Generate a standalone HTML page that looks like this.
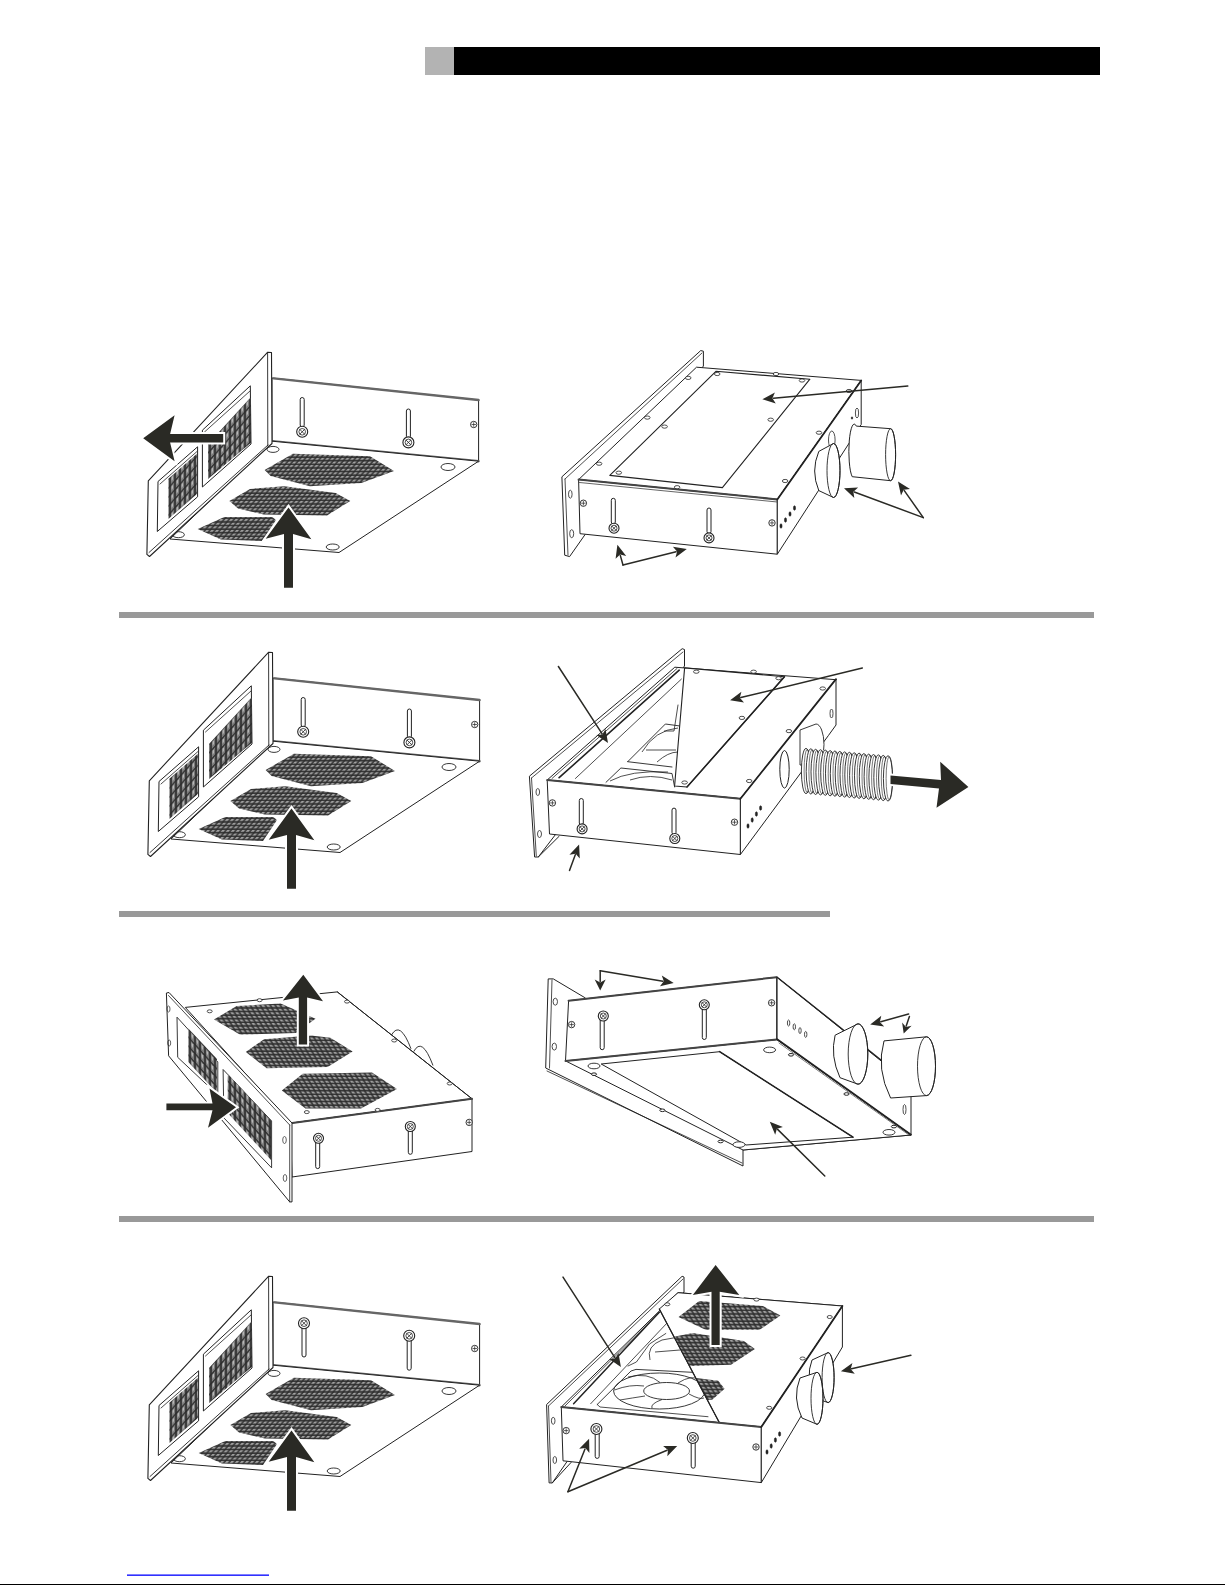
<!DOCTYPE html><html><head><meta charset="utf-8"><style>html,body{margin:0;padding:0;background:#fff;}body{width:1225px;height:1585px;overflow:hidden;position:relative;font-family:"Liberation Sans",sans-serif;}svg{position:absolute;left:0;top:0;}</style></head><body>
<svg width="1225" height="1585" viewBox="0 0 1225 1585">
<defs>
<pattern id="mesh" width="5" height="3.6" patternUnits="userSpaceOnUse" patternTransform="skewX(-40)"><rect width="5" height="3.6" fill="#2a2a2a"/><rect x="0.7" y="0.6" width="3.6" height="2.4" fill="#7c7c7c"/><rect x="1.3" y="1.0" width="1.8" height="0.9" fill="#bdbdbd"/></pattern>
<pattern id="meshp" width="5" height="9" patternUnits="userSpaceOnUse" patternTransform="skewY(-48)"><rect width="5" height="9" fill="#2a2a2a"/><rect x="0.8" y="0.8" width="3.4" height="7.4" fill="#7c7c7c"/><rect x="1.6" y="2" width="1.4" height="3.5" fill="#bdbdbd"/></pattern>
<pattern id="meshh" width="5" height="3.6" patternUnits="userSpaceOnUse" patternTransform="skewX(30)"><rect width="5" height="3.6" fill="#2a2a2a"/><rect x="0.7" y="0.6" width="3.6" height="2.4" fill="#7c7c7c"/><rect x="1.3" y="1.0" width="1.8" height="0.9" fill="#bdbdbd"/></pattern>
<pattern id="meshp2" width="5" height="9" patternUnits="userSpaceOnUse" patternTransform="skewY(48)"><rect width="5" height="9" fill="#2a2a2a"/><rect x="0.8" y="0.8" width="3.4" height="7.4" fill="#7c7c7c"/><rect x="1.6" y="2" width="1.4" height="3.5" fill="#bdbdbd"/></pattern>
</defs>
<rect x="425" y="47" width="29" height="28" fill="#b3b3b3"/>
<rect x="454" y="47" width="646" height="28" fill="#000"/>
<rect x="119" y="612" width="975" height="6" fill="#999"/>
<rect x="119" y="911" width="711" height="6" fill="#999"/>
<rect x="119" y="1216" width="975" height="6" fill="#999"/>
<rect x="127" y="1574.5" width="142" height="1.3" fill="#00f"/>
<rect x="0" y="1584" width="1225" height="1" fill="#000"/>
<defs><g id="d1"><polygon points="272.0,378.0 478.6,400.0 478.6,461.2 272.0,441.2" fill="#fff" stroke="#222" stroke-width="1.0" stroke-linejoin="round" /><line x1="273.7" y1="378.4" x2="478.6" y2="400.0" stroke="#666" stroke-width="2.4" stroke-linecap="round"/><line x1="272.0" y1="441.2" x2="478.6" y2="461.2" stroke="#666" stroke-width="2.4" stroke-linecap="round"/><polygon points="272.0,441.2 478.6,461.2 339.0,552.5 170.0,539.0" fill="#fff" stroke="#222" stroke-width="1.0" stroke-linejoin="round" /><ellipse cx="473.7" cy="424.5" rx="3.2" ry="3.2" fill="#fff" stroke="#222" stroke-width="0.9"/><line x1="471.8" y1="424.5" x2="475.6" y2="424.5" stroke="#222" stroke-width="0.7" stroke-linecap="round"/><line x1="473.7" y1="422.6" x2="473.7" y2="426.4" stroke="#222" stroke-width="0.7" stroke-linecap="round"/><ellipse cx="273.0" cy="449.4" rx="6.0" ry="3.0" fill="none" stroke="#222" stroke-width="0.9"/><ellipse cx="448.0" cy="467.0" rx="7.0" ry="3.5" fill="none" stroke="#222" stroke-width="0.9"/><ellipse cx="332.7" cy="547.0" rx="6.5" ry="3.0" fill="none" stroke="#222" stroke-width="0.9"/><ellipse cx="178.4" cy="534.7" rx="6.0" ry="3.0" fill="none" stroke="#222" stroke-width="0.9"/><polygon points="264.6,470.0 292.9,453.7 370.0,456.3 394.0,470.9 361.4,482.9 310.0,486.3 270.6,476.0" fill="url(#mesh)" stroke="none"/><polygon points="229.4,500.9 250.0,488.9 284.3,486.3 335.7,493.0 350.3,500.9 327.0,515.4 263.7,514.6 238.0,508.6" fill="url(#mesh)" stroke="none"/><polygon points="197.7,529.0 224.3,517.0 272.3,517.0 276.0,520.0 262.0,541.0 220.9,539.4" fill="url(#mesh)" stroke="none"/><polygon points="267.7,352.2 271.5,352.5 272.0,443.5 149.5,556.5 146.9,554.4 148.3,480.8" fill="#fff" stroke="#222" stroke-width="1.1" stroke-linejoin="round" /><line x1="267.6" y1="353.0" x2="267.8" y2="446.0" stroke="#222" stroke-width="0.9" stroke-linecap="round"/><line x1="149.0" y1="552.5" x2="268.0" y2="445.0" stroke="#222" stroke-width="0.9" stroke-linecap="round"/><polygon points="202.4,430.2 250.3,385.8 251.0,444.0 202.4,487.0" fill="#fff" stroke="#222" stroke-width="1.0" stroke-linejoin="round" /><polygon points="208.0,444.0 251.0,397.0 251.0,442.7 208.0,479.0" fill="url(#meshp)" stroke="none"/><line x1="204.5" y1="432.0" x2="250.0" y2="391.0" stroke="#222" stroke-width="0.8" stroke-linecap="round"/><polygon points="158.0,481.5 197.6,446.8 197.6,496.8 157.3,531.5" fill="#fff" stroke="#222" stroke-width="1.0" stroke-linejoin="round" /><polygon points="168.4,478.8 196.9,453.8 196.9,494.0 168.4,519.0" fill="url(#meshp)" stroke="none"/><line x1="160.0" y1="484.0" x2="197.0" y2="451.5" stroke="#222" stroke-width="0.8" stroke-linecap="round"/></g></defs>
<use href="#d1"/>
<rect x="300.2" y="397.5" width="4" height="29.5" rx="2" fill="#fff" stroke="#222" stroke-width="1"/><ellipse cx="302.2" cy="431.8" rx="5.5" ry="5.5" fill="#fff" stroke="#222" stroke-width="1.1"/><ellipse cx="302.2" cy="431.8" rx="3.3" ry="3.3" fill="none" stroke="#222" stroke-width="0.8"/><line x1="300.0" y1="429.6" x2="304.4" y2="434.0" stroke="#222" stroke-width="0.8" stroke-linecap="round"/><line x1="300.0" y1="434.0" x2="304.4" y2="429.6" stroke="#222" stroke-width="0.8" stroke-linecap="round"/>
<rect x="406.4" y="409.0" width="4" height="29.4" rx="2" fill="#fff" stroke="#222" stroke-width="1"/><ellipse cx="408.4" cy="442.4" rx="5.5" ry="5.5" fill="#fff" stroke="#222" stroke-width="1.1"/><ellipse cx="408.4" cy="442.4" rx="3.3" ry="3.3" fill="none" stroke="#222" stroke-width="0.8"/><line x1="406.2" y1="440.2" x2="410.6" y2="444.6" stroke="#222" stroke-width="0.8" stroke-linecap="round"/><line x1="406.2" y1="444.6" x2="410.6" y2="440.2" stroke="#222" stroke-width="0.8" stroke-linecap="round"/>
<polygon points="143.2,438.3 174.6,415.2 170.1,434.0 223.2,434.0 223.2,442.6 170.1,442.6 174.6,461.3" fill="#2a2a25" stroke="#fff" stroke-width="4" paint-order="stroke" stroke-linejoin="miter"/>
<polygon points="288.5,507.5 311.4,539.2 293.0,534.0 293.0,587.8 284.0,587.8 284.0,534.0 265.7,538.8" fill="#2a2a25" stroke="#fff" stroke-width="4" paint-order="stroke" stroke-linejoin="miter"/>
<use href="#d1" transform="translate(1,300)"/>
<rect x="301.2" y="697.5" width="4" height="29.5" rx="2" fill="#fff" stroke="#222" stroke-width="1"/><ellipse cx="303.2" cy="731.8" rx="5.5" ry="5.5" fill="#fff" stroke="#222" stroke-width="1.1"/><ellipse cx="303.2" cy="731.8" rx="3.3" ry="3.3" fill="none" stroke="#222" stroke-width="0.8"/><line x1="301.0" y1="729.6" x2="305.4" y2="734.0" stroke="#222" stroke-width="0.8" stroke-linecap="round"/><line x1="301.0" y1="734.0" x2="305.4" y2="729.6" stroke="#222" stroke-width="0.8" stroke-linecap="round"/>
<rect x="407.4" y="709.0" width="4" height="29.4" rx="2" fill="#fff" stroke="#222" stroke-width="1"/><ellipse cx="409.4" cy="742.4" rx="5.5" ry="5.5" fill="#fff" stroke="#222" stroke-width="1.1"/><ellipse cx="409.4" cy="742.4" rx="3.3" ry="3.3" fill="none" stroke="#222" stroke-width="0.8"/><line x1="407.2" y1="740.2" x2="411.6" y2="744.6" stroke="#222" stroke-width="0.8" stroke-linecap="round"/><line x1="407.2" y1="744.6" x2="411.6" y2="740.2" stroke="#222" stroke-width="0.8" stroke-linecap="round"/>
<polygon points="291.5,808.5 314.4,840.2 296.0,835.0 296.0,888.8 287.0,888.8 287.0,835.0 268.7,839.8" fill="#2a2a25" stroke="#fff" stroke-width="4" paint-order="stroke" stroke-linejoin="miter"/>
<use href="#d1" transform="translate(1,924)"/>
<rect x="302.0" y="1324.0" width="4" height="33.0" rx="2" fill="#fff" stroke="#222" stroke-width="1"/><ellipse cx="304.0" cy="1323.2" rx="5.5" ry="5.5" fill="#fff" stroke="#222" stroke-width="1.1"/><ellipse cx="304.0" cy="1323.2" rx="3.3" ry="3.3" fill="none" stroke="#222" stroke-width="0.8"/><line x1="301.8" y1="1321.0" x2="306.2" y2="1325.4" stroke="#222" stroke-width="0.8" stroke-linecap="round"/><line x1="301.8" y1="1325.4" x2="306.2" y2="1321.0" stroke="#222" stroke-width="0.8" stroke-linecap="round"/>
<rect x="407.2" y="1336.0" width="4" height="34.2" rx="2" fill="#fff" stroke="#222" stroke-width="1"/><ellipse cx="409.2" cy="1335.8" rx="5.5" ry="5.5" fill="#fff" stroke="#222" stroke-width="1.1"/><ellipse cx="409.2" cy="1335.8" rx="3.3" ry="3.3" fill="none" stroke="#222" stroke-width="0.8"/><line x1="407.0" y1="1333.6" x2="411.4" y2="1338.0" stroke="#222" stroke-width="0.8" stroke-linecap="round"/><line x1="407.0" y1="1338.0" x2="411.4" y2="1333.6" stroke="#222" stroke-width="0.8" stroke-linecap="round"/>
<polygon points="291.5,1430.5 314.4,1462.2 296.0,1457.0 296.0,1510.8 287.0,1510.8 287.0,1457.0 268.7,1461.8" fill="#2a2a25" stroke="#fff" stroke-width="4" paint-order="stroke" stroke-linejoin="miter"/>
<polygon points="700.7,350.6 703.4,351.2 703.4,366.0 569.6,556.6 564.7,555.2 561.9,476.8" fill="#fff" stroke="#222" stroke-width="1.0" stroke-linejoin="round" /><line x1="702.0" y1="353.0" x2="565.0" y2="479.0" stroke="#222" stroke-width="0.8" stroke-linecap="round"/><line x1="565.0" y1="479.0" x2="568.0" y2="555.0" stroke="#222" stroke-width="0.8" stroke-linecap="round"/><ellipse cx="570.3" cy="494.2" rx="1.8" ry="4.0" fill="none" stroke="#222" stroke-width="0.8"/><ellipse cx="571.7" cy="533.7" rx="2.0" ry="4.0" fill="none" stroke="#222" stroke-width="0.8"/><polygon points="696.5,367.2 861.2,380.4 777.3,499.4 578.6,479.6" fill="#fff" stroke="#222" stroke-width="1.0" stroke-linejoin="round" /><polygon points="715.9,371.3 809.9,379.2 722.4,487.6 609.8,475.4" fill="#fff" stroke="#222" stroke-width="1.1" stroke-linejoin="round" /><polygon points="578.6,479.6 777.3,499.4 777.3,554.2 580.0,533.7" fill="#fff" stroke="#222" stroke-width="1.0" stroke-linejoin="round" /><line x1="578.6" y1="479.6" x2="777.3" y2="499.4" stroke="#444" stroke-width="2.0" stroke-linecap="round"/><line x1="579.5" y1="482.5" x2="777.3" y2="502.0" stroke="#222" stroke-width="0.7" stroke-linecap="round"/><polygon points="777.3,499.4 861.2,380.4 861.2,424.5 777.3,554.2" fill="#fff" stroke="#222" stroke-width="1.0" stroke-linejoin="round" /><line x1="777.3" y1="499.4" x2="861.2" y2="380.4" stroke="#222" stroke-width="1.8" stroke-linecap="round"/><ellipse cx="688.2" cy="377.9" rx="2.8" ry="1.6" fill="#fff" stroke="#222" stroke-width="0.8"/><ellipse cx="647.3" cy="417.6" rx="2.8" ry="1.6" fill="#fff" stroke="#222" stroke-width="0.8"/><ellipse cx="599.1" cy="463.7" rx="2.8" ry="1.6" fill="#fff" stroke="#222" stroke-width="0.8"/><ellipse cx="664.6" cy="426.6" rx="2.8" ry="1.6" fill="#fff" stroke="#222" stroke-width="0.8"/><ellipse cx="618.8" cy="472.7" rx="2.8" ry="1.6" fill="#fff" stroke="#222" stroke-width="0.8"/><ellipse cx="677.1" cy="487.2" rx="2.8" ry="1.6" fill="#fff" stroke="#222" stroke-width="0.8"/><ellipse cx="819.0" cy="432.7" rx="2.8" ry="1.6" fill="#fff" stroke="#222" stroke-width="0.8"/><ellipse cx="785.1" cy="481.0" rx="2.8" ry="1.6" fill="#fff" stroke="#222" stroke-width="0.8"/><ellipse cx="849.0" cy="391.0" rx="2.8" ry="1.6" fill="#fff" stroke="#222" stroke-width="0.8"/><ellipse cx="776.0" cy="374.0" rx="2.8" ry="1.6" fill="#fff" stroke="#222" stroke-width="0.8"/><ellipse cx="717.2" cy="374.0" rx="2.8" ry="1.6" fill="#fff" stroke="#222" stroke-width="0.8"/><ellipse cx="802.0" cy="380.5" rx="2.8" ry="1.6" fill="#fff" stroke="#222" stroke-width="0.8"/><ellipse cx="770.7" cy="419.7" rx="2.8" ry="1.6" fill="#fff" stroke="#222" stroke-width="0.8"/><ellipse cx="583.4" cy="503.2" rx="3.2" ry="3.2" fill="#fff" stroke="#222" stroke-width="0.9"/><line x1="581.5" y1="503.2" x2="585.3" y2="503.2" stroke="#222" stroke-width="0.7" stroke-linecap="round"/><line x1="583.4" y1="501.3" x2="583.4" y2="505.1" stroke="#222" stroke-width="0.7" stroke-linecap="round"/><ellipse cx="772.0" cy="522.9" rx="3.2" ry="3.2" fill="#fff" stroke="#222" stroke-width="0.9"/><line x1="770.1" y1="522.9" x2="773.9" y2="522.9" stroke="#222" stroke-width="0.7" stroke-linecap="round"/><line x1="772.0" y1="521.0" x2="772.0" y2="524.8" stroke="#222" stroke-width="0.7" stroke-linecap="round"/><rect x="611.3" y="498.3" width="4" height="25.7" rx="2" fill="#fff" stroke="#222" stroke-width="1"/><ellipse cx="614.0" cy="528.2" rx="5.0" ry="5.0" fill="#fff" stroke="#222" stroke-width="1.1"/><ellipse cx="614.0" cy="528.2" rx="3.0" ry="3.0" fill="none" stroke="#222" stroke-width="0.8"/><line x1="612.0" y1="526.2" x2="616.0" y2="530.2" stroke="#222" stroke-width="0.8" stroke-linecap="round"/><line x1="612.0" y1="530.2" x2="616.0" y2="526.2" stroke="#222" stroke-width="0.8" stroke-linecap="round"/><rect x="707.0" y="508.0" width="4" height="25.5" rx="2" fill="#fff" stroke="#222" stroke-width="1"/><ellipse cx="709.0" cy="537.9" rx="5.0" ry="5.0" fill="#fff" stroke="#222" stroke-width="1.1"/><ellipse cx="709.0" cy="537.9" rx="3.0" ry="3.0" fill="none" stroke="#222" stroke-width="0.8"/><line x1="707.0" y1="535.9" x2="711.0" y2="539.9" stroke="#222" stroke-width="0.8" stroke-linecap="round"/><line x1="707.0" y1="539.9" x2="711.0" y2="535.9" stroke="#222" stroke-width="0.8" stroke-linecap="round"/><ellipse cx="781.0" cy="526.0" rx="1.1" ry="2.3" fill="#222" stroke="#222" stroke-width="0.5"/><ellipse cx="785.5" cy="520.0" rx="1.1" ry="2.3" fill="#222" stroke="#222" stroke-width="0.5"/><ellipse cx="790.0" cy="514.0" rx="1.1" ry="2.3" fill="#222" stroke="#222" stroke-width="0.5"/><ellipse cx="794.5" cy="508.0" rx="1.1" ry="2.3" fill="#222" stroke="#222" stroke-width="0.5"/><ellipse cx="857.0" cy="413.0" rx="1.6" ry="5.0" fill="none" stroke="#222" stroke-width="0.8"/><ellipse cx="852.0" cy="418.0" rx="0.8" ry="1.2" fill="#222" stroke="#222" stroke-width="0.4"/><path d="M856.3,426.1 L890.6,428.7 A5,26 0 0 1 890.6,480.7 L852.2,476.7 A5,25.3 0 0 1 856.3,426.1 Z" fill="#fff" stroke="#222" stroke-width="1"/><ellipse cx="890.6" cy="454.7" rx="5.0" ry="26.0" fill="none" stroke="#222" stroke-width="0.9"/><ellipse cx="831.8" cy="440.0" rx="3.3" ry="9.0" fill="#fff" stroke="#222" stroke-width="0.8"/><path d="M818.8,451.4 L833.5,443.5 A6.5,27 0 0 1 833.5,497.5 L818.8,490.6 Q810.5,471 818.8,451.4 Z" fill="#fff" stroke="#222" stroke-width="1"/><ellipse cx="833.5" cy="470.5" rx="6.5" ry="27.0" fill="none" stroke="#222" stroke-width="0.9"/><line x1="907.8" y1="386.1" x2="773.4" y2="398.2" stroke="#2a2a25" stroke-width="1.5" stroke-linecap="round"/><polygon points="762.4,399.2 774.9,392.6 772.4,398.3 775.8,403.5" fill="#2a2a25"/><line x1="923.3" y1="517.6" x2="854.3" y2="492.0" stroke="#2a2a25" stroke-width="1.5" stroke-linecap="round"/><polygon points="844.0,488.2 858.1,487.6 853.4,491.7 854.3,497.9" fill="#2a2a25"/><line x1="923.3" y1="517.6" x2="904.3" y2="490.6" stroke="#2a2a25" stroke-width="1.5" stroke-linecap="round"/><polygon points="898.0,481.6 910.0,489.1 903.7,489.8 901.0,495.4" fill="#2a2a25"/><line x1="623.0" y1="565.0" x2="620.3" y2="555.4" stroke="#2a2a25" stroke-width="1.5" stroke-linecap="round"/><polygon points="617.4,544.8 626.2,555.9 620.1,554.4 615.6,558.8" fill="#2a2a25"/><line x1="623.0" y1="565.0" x2="676.1" y2="551.7" stroke="#2a2a25" stroke-width="1.5" stroke-linecap="round"/><polygon points="686.8,549.0 675.5,557.5 677.1,551.4 672.9,546.8" fill="#2a2a25"/>
<polygon points="682.2,648.7 684.5,649.5 684.5,666.0 538.3,857.0 534.6,857.0 529.4,776.2" fill="#fff" stroke="#222" stroke-width="1.0" stroke-linejoin="round" /><line x1="683.0" y1="652.0" x2="531.5" y2="778.0" stroke="#222" stroke-width="0.8" stroke-linecap="round"/><line x1="531.5" y1="778.0" x2="536.3" y2="856.0" stroke="#222" stroke-width="0.8" stroke-linecap="round"/><line x1="538.3" y1="857.0" x2="559.1" y2="836.3" stroke="#222" stroke-width="1.0" stroke-linecap="round"/><ellipse cx="537.8" cy="792.0" rx="1.8" ry="3.5" fill="none" stroke="#222" stroke-width="0.8"/><ellipse cx="539.5" cy="834.0" rx="2.0" ry="3.5" fill="none" stroke="#222" stroke-width="0.8"/><polygon points="674.8,667.2 835.9,679.7 740.4,798.7 547.2,780.0" fill="#fff" stroke="#222" stroke-width="1.0" stroke-linejoin="round" /><line x1="679.2" y1="670.2" x2="559.1" y2="777.7" stroke="#222" stroke-width="1.6" stroke-linecap="round"/><line x1="677.0" y1="668.5" x2="552.0" y2="778.5" stroke="#222" stroke-width="0.8" stroke-linecap="round"/><line x1="681.4" y1="679.1" x2="575.4" y2="778.5" stroke="#222" stroke-width="0.8" stroke-linecap="round"/><polyline points="606.0,782.3 620.9,768.0 672.0,773.5 674.6,787.0" fill="none" stroke="#222" stroke-width="0.9" stroke-linejoin="round" stroke-linecap="round" /><polyline points="627.7,761.7 665.4,724.0 680.0,726.0" fill="none" stroke="#222" stroke-width="0.9" stroke-linejoin="round" stroke-linecap="round" /><line x1="627.7" y1="761.7" x2="672.0" y2="767.0" stroke="#222" stroke-width="0.9" stroke-linecap="round"/><path d="M642,752 Q655,730 678,728 M646,750 L676,750 M657,762 Q668,752 678,752 M610,781 Q630,770 668,772 M630,780 Q650,773 672,780" fill="none" stroke="#222" stroke-width="0.8"/><polyline points="664.4,731.0 674.0,731.0 678.0,705.0" fill="none" stroke="#222" stroke-width="0.8" stroke-linejoin="round" stroke-linecap="round" /><polygon points="684.6,667.9 784.5,676.7 687.0,787.0 674.6,786.0" fill="#fff" stroke="#222" stroke-width="1.1" stroke-linejoin="round" /><line x1="784.5" y1="676.7" x2="687.0" y2="787.0" stroke="#222" stroke-width="1.5" stroke-linecap="round"/><polygon points="547.2,780.0 740.4,798.7 740.4,854.5 549.5,834.0" fill="#fff" stroke="#222" stroke-width="1.0" stroke-linejoin="round" /><line x1="547.2" y1="780.0" x2="740.4" y2="798.7" stroke="#444" stroke-width="2.0" stroke-linecap="round"/><polygon points="740.4,798.7 836.0,679.1 836.0,725.0 828.5,735.4 740.4,854.5" fill="#fff" stroke="#222" stroke-width="1.0" stroke-linejoin="round" /><line x1="740.4" y1="798.7" x2="836.0" y2="679.1" stroke="#222" stroke-width="1.8" stroke-linecap="round"/><ellipse cx="822.7" cy="688.5" rx="2.8" ry="1.6" fill="#fff" stroke="#222" stroke-width="0.8"/><ellipse cx="788.9" cy="731.1" rx="2.8" ry="1.6" fill="#fff" stroke="#222" stroke-width="0.8"/><ellipse cx="749.2" cy="781.0" rx="2.8" ry="1.6" fill="#fff" stroke="#222" stroke-width="0.8"/><ellipse cx="741.9" cy="717.9" rx="2.8" ry="1.6" fill="#fff" stroke="#222" stroke-width="0.8"/><ellipse cx="753.6" cy="671.7" rx="2.8" ry="1.6" fill="#fff" stroke="#222" stroke-width="0.8"/><ellipse cx="778.6" cy="678.2" rx="2.8" ry="1.6" fill="#fff" stroke="#222" stroke-width="0.8"/><ellipse cx="696.3" cy="671.7" rx="2.8" ry="1.6" fill="#fff" stroke="#222" stroke-width="0.8"/><ellipse cx="684.6" cy="782.5" rx="2.8" ry="1.6" fill="#fff" stroke="#222" stroke-width="0.8"/><ellipse cx="552.4" cy="802.9" rx="3.2" ry="3.2" fill="#fff" stroke="#222" stroke-width="0.9"/><line x1="550.5" y1="802.9" x2="554.3" y2="802.9" stroke="#222" stroke-width="0.7" stroke-linecap="round"/><line x1="552.4" y1="801.0" x2="552.4" y2="804.8" stroke="#222" stroke-width="0.7" stroke-linecap="round"/><ellipse cx="734.5" cy="822.2" rx="3.2" ry="3.2" fill="#fff" stroke="#222" stroke-width="0.9"/><line x1="732.6" y1="822.2" x2="736.4" y2="822.2" stroke="#222" stroke-width="0.7" stroke-linecap="round"/><line x1="734.5" y1="820.3" x2="734.5" y2="824.1" stroke="#222" stroke-width="0.7" stroke-linecap="round"/><rect x="579.3" y="798.5" width="4" height="26.5" rx="2" fill="#fff" stroke="#222" stroke-width="1"/><ellipse cx="582.1" cy="828.9" rx="5.0" ry="5.0" fill="#fff" stroke="#222" stroke-width="1.1"/><ellipse cx="582.1" cy="828.9" rx="3.0" ry="3.0" fill="none" stroke="#222" stroke-width="0.8"/><line x1="580.1" y1="826.9" x2="584.1" y2="830.9" stroke="#222" stroke-width="0.8" stroke-linecap="round"/><line x1="580.1" y1="830.9" x2="584.1" y2="826.9" stroke="#222" stroke-width="0.8" stroke-linecap="round"/><rect x="672.0" y="808.1" width="4" height="26.4" rx="2" fill="#fff" stroke="#222" stroke-width="1"/><ellipse cx="674.8" cy="838.5" rx="5.0" ry="5.0" fill="#fff" stroke="#222" stroke-width="1.1"/><ellipse cx="674.8" cy="838.5" rx="3.0" ry="3.0" fill="none" stroke="#222" stroke-width="0.8"/><line x1="672.8" y1="836.5" x2="676.8" y2="840.5" stroke="#222" stroke-width="0.8" stroke-linecap="round"/><line x1="672.8" y1="840.5" x2="676.8" y2="836.5" stroke="#222" stroke-width="0.8" stroke-linecap="round"/><ellipse cx="748.0" cy="826.0" rx="1.1" ry="2.3" fill="#222" stroke="#222" stroke-width="0.5"/><ellipse cx="752.2" cy="820.0" rx="1.1" ry="2.3" fill="#222" stroke="#222" stroke-width="0.5"/><ellipse cx="756.4" cy="814.0" rx="1.1" ry="2.3" fill="#222" stroke="#222" stroke-width="0.5"/><ellipse cx="760.6" cy="808.0" rx="1.1" ry="2.3" fill="#222" stroke="#222" stroke-width="0.5"/><ellipse cx="784.5" cy="769.3" rx="4.7" ry="18.8" fill="none" stroke="#222" stroke-width="1.0"/><ellipse cx="831.5" cy="713.5" rx="1.5" ry="4.5" fill="none" stroke="#222" stroke-width="0.8"/><path d="M800,730 L816,724 A8,20.5 0 0 1 816,765 L800,765 Z" fill="#fff" stroke="#222" stroke-width="0.9"/><path d="M802,748.6 L889,756 L889,801 L802,793.6 Z" fill="#fff" stroke="none"/><ellipse cx="806.0" cy="771.0" rx="4.6" ry="22.6" fill="#fff" stroke="#222" stroke-width="0.9"/><ellipse cx="807.3" cy="771.0" rx="3.2" ry="21.5" fill="none" stroke="#222" stroke-width="0.6"/><ellipse cx="810.8" cy="771.4" rx="4.6" ry="22.6" fill="#fff" stroke="#222" stroke-width="0.9"/><ellipse cx="812.1" cy="771.4" rx="3.2" ry="21.5" fill="none" stroke="#222" stroke-width="0.6"/><ellipse cx="815.6" cy="771.9" rx="4.6" ry="22.6" fill="#fff" stroke="#222" stroke-width="0.9"/><ellipse cx="816.9" cy="771.9" rx="3.2" ry="21.5" fill="none" stroke="#222" stroke-width="0.6"/><ellipse cx="820.5" cy="772.3" rx="4.6" ry="22.6" fill="#fff" stroke="#222" stroke-width="0.9"/><ellipse cx="821.8" cy="772.3" rx="3.2" ry="21.5" fill="none" stroke="#222" stroke-width="0.6"/><ellipse cx="825.3" cy="772.7" rx="4.6" ry="22.6" fill="#fff" stroke="#222" stroke-width="0.9"/><ellipse cx="826.6" cy="772.7" rx="3.2" ry="21.5" fill="none" stroke="#222" stroke-width="0.6"/><ellipse cx="830.1" cy="773.2" rx="4.6" ry="22.6" fill="#fff" stroke="#222" stroke-width="0.9"/><ellipse cx="831.4" cy="773.2" rx="3.2" ry="21.5" fill="none" stroke="#222" stroke-width="0.6"/><ellipse cx="834.9" cy="773.6" rx="4.6" ry="22.6" fill="#fff" stroke="#222" stroke-width="0.9"/><ellipse cx="836.2" cy="773.6" rx="3.2" ry="21.5" fill="none" stroke="#222" stroke-width="0.6"/><ellipse cx="839.8" cy="774.0" rx="4.6" ry="22.6" fill="#fff" stroke="#222" stroke-width="0.9"/><ellipse cx="841.1" cy="774.0" rx="3.2" ry="21.5" fill="none" stroke="#222" stroke-width="0.6"/><ellipse cx="844.6" cy="774.5" rx="4.6" ry="22.6" fill="#fff" stroke="#222" stroke-width="0.9"/><ellipse cx="845.9" cy="774.5" rx="3.2" ry="21.5" fill="none" stroke="#222" stroke-width="0.6"/><ellipse cx="849.4" cy="774.9" rx="4.6" ry="22.6" fill="#fff" stroke="#222" stroke-width="0.9"/><ellipse cx="850.7" cy="774.9" rx="3.2" ry="21.5" fill="none" stroke="#222" stroke-width="0.6"/><ellipse cx="854.2" cy="775.4" rx="4.6" ry="22.6" fill="#fff" stroke="#222" stroke-width="0.9"/><ellipse cx="855.5" cy="775.4" rx="3.2" ry="21.5" fill="none" stroke="#222" stroke-width="0.6"/><ellipse cx="859.1" cy="775.8" rx="4.6" ry="22.6" fill="#fff" stroke="#222" stroke-width="0.9"/><ellipse cx="860.4" cy="775.8" rx="3.2" ry="21.5" fill="none" stroke="#222" stroke-width="0.6"/><ellipse cx="863.9" cy="776.2" rx="4.6" ry="22.6" fill="#fff" stroke="#222" stroke-width="0.9"/><ellipse cx="865.2" cy="776.2" rx="3.2" ry="21.5" fill="none" stroke="#222" stroke-width="0.6"/><ellipse cx="868.7" cy="776.7" rx="4.6" ry="22.6" fill="#fff" stroke="#222" stroke-width="0.9"/><ellipse cx="870.0" cy="776.7" rx="3.2" ry="21.5" fill="none" stroke="#222" stroke-width="0.6"/><ellipse cx="873.5" cy="777.1" rx="4.6" ry="22.6" fill="#fff" stroke="#222" stroke-width="0.9"/><ellipse cx="874.8" cy="777.1" rx="3.2" ry="21.5" fill="none" stroke="#222" stroke-width="0.6"/><ellipse cx="878.4" cy="777.5" rx="4.6" ry="22.6" fill="#fff" stroke="#222" stroke-width="0.9"/><ellipse cx="879.7" cy="777.5" rx="3.2" ry="21.5" fill="none" stroke="#222" stroke-width="0.6"/><ellipse cx="883.2" cy="778.0" rx="4.6" ry="22.6" fill="#fff" stroke="#222" stroke-width="0.9"/><ellipse cx="884.5" cy="778.0" rx="3.2" ry="21.5" fill="none" stroke="#222" stroke-width="0.6"/><ellipse cx="888.0" cy="778.4" rx="4.6" ry="22.6" fill="#fff" stroke="#222" stroke-width="0.9"/><ellipse cx="889.3" cy="778.4" rx="3.2" ry="21.5" fill="none" stroke="#222" stroke-width="0.6"/><polygon points="890.5,775.4 941.0,780.0 940.2,761.7 968.4,787.1 936.5,807.7 939.0,788.5 890.5,784.0" fill="#2a2a25" stroke="#fff" stroke-width="4" paint-order="stroke" stroke-linejoin="miter"/><line x1="862.3" y1="668.0" x2="740.8" y2="697.6" stroke="#2a2a25" stroke-width="1.5" stroke-linecap="round"/><polygon points="730.1,700.2 741.4,691.8 739.8,697.8 744.0,702.5" fill="#2a2a25"/><line x1="558.4" y1="666.5" x2="602.0" y2="733.7" stroke="#2a2a25" stroke-width="1.5" stroke-linecap="round"/><polygon points="608.0,742.9 596.3,735.0 602.6,734.5 605.5,729.0" fill="#2a2a25"/><line x1="569.5" y1="870.4" x2="575.3" y2="854.7" stroke="#2a2a25" stroke-width="1.5" stroke-linecap="round"/><polygon points="579.1,844.4 579.8,858.5 575.6,853.8 569.4,854.7" fill="#2a2a25"/>
<polygon points="185.3,1007.4 337.3,991.9 472.0,1098.8 290.5,1123.2" fill="#fff" stroke="#222" stroke-width="1.0" stroke-linejoin="round" /><line x1="337.3" y1="991.9" x2="472.0" y2="1098.8" stroke="#222" stroke-width="1.0" stroke-linecap="round"/><path d="M391.5,1035 Q400,1020 411,1048.8 M413.7,1051.6 Q422,1036 433,1065.5" fill="none" stroke="#222" stroke-width="0.9"/><polygon points="290.5,1123.2 472.0,1098.8 472.0,1151.5 292.0,1177.0" fill="#fff" stroke="#222" stroke-width="1.0" stroke-linejoin="round" /><line x1="290.5" y1="1123.2" x2="472.0" y2="1098.8" stroke="#444" stroke-width="2.0" stroke-linecap="round"/><rect x="315.7" y="1138.0" width="4" height="30.6" rx="2" fill="#fff" stroke="#222" stroke-width="1"/><ellipse cx="318.5" cy="1138.3" rx="5.0" ry="5.0" fill="#fff" stroke="#222" stroke-width="1.1"/><ellipse cx="318.5" cy="1138.3" rx="3.0" ry="3.0" fill="none" stroke="#222" stroke-width="0.8"/><line x1="316.5" y1="1136.3" x2="320.5" y2="1140.3" stroke="#222" stroke-width="0.8" stroke-linecap="round"/><line x1="316.5" y1="1140.3" x2="320.5" y2="1136.3" stroke="#222" stroke-width="0.8" stroke-linecap="round"/><rect x="408.3" y="1126.5" width="4" height="27.8" rx="2" fill="#fff" stroke="#222" stroke-width="1"/><ellipse cx="410.3" cy="1126.5" rx="5.0" ry="5.0" fill="#fff" stroke="#222" stroke-width="1.1"/><ellipse cx="410.3" cy="1126.5" rx="3.0" ry="3.0" fill="none" stroke="#222" stroke-width="0.8"/><line x1="408.3" y1="1124.5" x2="412.3" y2="1128.5" stroke="#222" stroke-width="0.8" stroke-linecap="round"/><line x1="408.3" y1="1128.5" x2="412.3" y2="1124.5" stroke="#222" stroke-width="0.8" stroke-linecap="round"/><ellipse cx="469.2" cy="1122.4" rx="3.2" ry="3.2" fill="#fff" stroke="#222" stroke-width="0.9"/><line x1="467.3" y1="1122.4" x2="471.1" y2="1122.4" stroke="#222" stroke-width="0.7" stroke-linecap="round"/><line x1="469.2" y1="1120.5" x2="469.2" y2="1124.3" stroke="#222" stroke-width="0.7" stroke-linecap="round"/><ellipse cx="347.0" cy="1001.6" rx="2.5" ry="1.5" fill="#fff" stroke="#222" stroke-width="0.8"/><ellipse cx="394.2" cy="1040.5" rx="2.5" ry="1.5" fill="#fff" stroke="#222" stroke-width="0.8"/><ellipse cx="449.7" cy="1083.5" rx="2.5" ry="1.5" fill="#fff" stroke="#222" stroke-width="0.8"/><ellipse cx="377.6" cy="1109.9" rx="2.5" ry="1.5" fill="#fff" stroke="#222" stroke-width="0.8"/><ellipse cx="259.6" cy="1000.2" rx="2.5" ry="1.5" fill="#fff" stroke="#222" stroke-width="0.8"/><ellipse cx="209.7" cy="1011.3" rx="2.5" ry="1.5" fill="#fff" stroke="#222" stroke-width="0.8"/><ellipse cx="306.8" cy="1112.1" rx="2.5" ry="1.5" fill="#fff" stroke="#222" stroke-width="0.8"/><polygon points="214.0,1019.5 236.7,1005.9 280.6,1003.6 315.5,1018.7 295.8,1033.0 239.8,1034.6" fill="url(#meshh)" stroke="none"/><polygon points="245.8,1052.0 264.0,1039.2 310.9,1035.4 330.4,1037.7 352.6,1051.6 327.6,1066.9 266.6,1068.2" fill="url(#meshh)" stroke="none"/><polygon points="281.8,1090.4 302.7,1073.8 372.0,1072.4 397.0,1089.0 361.0,1108.5 305.4,1108.5" fill="url(#meshh)" stroke="none"/><polygon points="166.4,993.0 169.0,992.5 292.0,1123.0 292.0,1201.9 289.7,1201.9 168.6,1055.8" fill="#fff" stroke="#222" stroke-width="1.0" stroke-linejoin="round" /><line x1="168.5" y1="995.5" x2="289.7" y2="1125.0" stroke="#222" stroke-width="0.8" stroke-linecap="round"/><line x1="289.7" y1="1125.0" x2="289.7" y2="1201.9" stroke="#222" stroke-width="0.8" stroke-linecap="round"/><ellipse cx="168.5" cy="1009.0" rx="1.5" ry="3.0" fill="none" stroke="#222" stroke-width="0.7"/><ellipse cx="169.2" cy="1043.0" rx="1.5" ry="3.0" fill="none" stroke="#222" stroke-width="0.7"/><ellipse cx="284.5" cy="1140.0" rx="1.8" ry="3.5" fill="none" stroke="#222" stroke-width="0.7"/><ellipse cx="285.0" cy="1178.0" rx="1.8" ry="3.5" fill="none" stroke="#222" stroke-width="0.7"/><polygon points="177.0,1017.2 217.8,1061.9 217.8,1095.0 177.7,1057.3" fill="#fff" stroke="#222" stroke-width="0.9" stroke-linejoin="round" /><polygon points="188.3,1028.6 217.0,1059.0 217.0,1093.0 188.3,1062.0" fill="url(#meshp2)" stroke="none"/><polygon points="223.1,1069.5 271.6,1121.0 271.6,1167.8 223.9,1117.9" fill="#fff" stroke="#222" stroke-width="0.9" stroke-linejoin="round" /><polygon points="227.7,1074.0 271.0,1120.5 271.0,1160.0 227.7,1113.0" fill="url(#meshp2)" stroke="none"/><polygon points="303.3,974.8 323.0,1001.3 307.1,997.5 307.1,1044.5 298.8,1044.5 298.8,997.5 282.9,1000.6" fill="#2a2a25" stroke="#fff" stroke-width="4" paint-order="stroke" stroke-linejoin="miter"/><polygon points="166.4,1103.5 212.5,1103.5 209.5,1088.4 236.0,1107.3 208.0,1127.7 212.5,1110.3 166.4,1110.3" fill="#2a2a25" stroke="#fff" stroke-width="4" paint-order="stroke" stroke-linejoin="miter"/>
<polygon points="565.5,1060.9 776.7,1039.5 911.0,1135.0 743.0,1150.0" fill="#fff" stroke="#222" stroke-width="1.0" stroke-linejoin="round" /><polygon points="548.2,978.9 553.3,978.9 584.9,997.7 743.0,1149.7 743.0,1166.0 545.7,1068.0" fill="#fff" stroke="#222" stroke-width="1.0" stroke-linejoin="round" /><line x1="552.0" y1="980.0" x2="549.5" y2="1068.0" stroke="#222" stroke-width="0.8" stroke-linecap="round"/><line x1="547.0" y1="1071.0" x2="742.0" y2="1163.0" stroke="#222" stroke-width="0.8" stroke-linecap="round"/><ellipse cx="555.3" cy="1001.7" rx="2.2" ry="3.5" fill="none" stroke="#222" stroke-width="0.8"/><ellipse cx="554.3" cy="1046.6" rx="2.2" ry="3.5" fill="none" stroke="#222" stroke-width="0.8"/><polygon points="565.5,1060.9 776.7,1039.5 911.0,1135.0 743.0,1150.0" fill="#fff" stroke="#222" stroke-width="1.0" stroke-linejoin="round" /><polygon points="601.2,1064.0 719.6,1051.7 853.0,1137.2 746.0,1145.0" fill="#fff" stroke="#222" stroke-width="1.0" stroke-linejoin="round" /><line x1="719.6" y1="1051.7" x2="853.0" y2="1137.2" stroke="#222" stroke-width="1.6" stroke-linecap="round"/><polygon points="568.6,1000.7 776.7,977.2 776.7,1039.5 565.5,1060.9" fill="#fff" stroke="#222" stroke-width="1.0" stroke-linejoin="round" /><line x1="568.6" y1="1000.7" x2="776.7" y2="977.2" stroke="#444" stroke-width="2.0" stroke-linecap="round"/><line x1="565.5" y1="1060.9" x2="776.7" y2="1039.5" stroke="#444" stroke-width="2.0" stroke-linecap="round"/><rect x="600.2" y="1016.0" width="4" height="33.7" rx="2" fill="#fff" stroke="#222" stroke-width="1"/><ellipse cx="603.3" cy="1016.0" rx="5.0" ry="5.0" fill="#fff" stroke="#222" stroke-width="1.1"/><ellipse cx="603.3" cy="1016.0" rx="3.0" ry="3.0" fill="none" stroke="#222" stroke-width="0.8"/><line x1="601.3" y1="1014.0" x2="605.3" y2="1018.0" stroke="#222" stroke-width="0.8" stroke-linecap="round"/><line x1="601.3" y1="1018.0" x2="605.3" y2="1014.0" stroke="#222" stroke-width="0.8" stroke-linecap="round"/><rect x="702.3" y="1004.8" width="4" height="34.7" rx="2" fill="#fff" stroke="#222" stroke-width="1"/><ellipse cx="704.3" cy="1004.8" rx="5.0" ry="5.0" fill="#fff" stroke="#222" stroke-width="1.1"/><ellipse cx="704.3" cy="1004.8" rx="3.0" ry="3.0" fill="none" stroke="#222" stroke-width="0.8"/><line x1="702.3" y1="1002.8" x2="706.3" y2="1006.8" stroke="#222" stroke-width="0.8" stroke-linecap="round"/><line x1="702.3" y1="1006.8" x2="706.3" y2="1002.8" stroke="#222" stroke-width="0.8" stroke-linecap="round"/><ellipse cx="571.6" cy="1024.6" rx="3.2" ry="3.2" fill="#fff" stroke="#222" stroke-width="0.9"/><line x1="569.7" y1="1024.6" x2="573.5" y2="1024.6" stroke="#222" stroke-width="0.7" stroke-linecap="round"/><line x1="571.6" y1="1022.7" x2="571.6" y2="1026.5" stroke="#222" stroke-width="0.7" stroke-linecap="round"/><ellipse cx="771.6" cy="1002.8" rx="3.2" ry="3.2" fill="#fff" stroke="#222" stroke-width="0.9"/><line x1="769.7" y1="1002.8" x2="773.5" y2="1002.8" stroke="#222" stroke-width="0.7" stroke-linecap="round"/><line x1="771.6" y1="1000.9" x2="771.6" y2="1004.7" stroke="#222" stroke-width="0.7" stroke-linecap="round"/><polygon points="777.1,977.2 911.0,1085.0 911.0,1134.8 777.1,1039.3" fill="#fff" stroke="#222" stroke-width="1.0" stroke-linejoin="round" /><line x1="777.1" y1="977.2" x2="881.6" y2="1060.5" stroke="#222" stroke-width="1.4" stroke-linecap="round"/><line x1="777.1" y1="1039.3" x2="911.0" y2="1134.8" stroke="#222" stroke-width="1.8" stroke-linecap="round"/><line x1="779.0" y1="1043.0" x2="909.0" y2="1135.0" stroke="#222" stroke-width="0.6" stroke-linecap="round"/><ellipse cx="788.6" cy="1023.0" rx="1.2" ry="3.0" fill="none" stroke="#222" stroke-width="0.8"/><ellipse cx="794.3" cy="1026.8" rx="1.2" ry="3.0" fill="none" stroke="#222" stroke-width="0.8"/><ellipse cx="800.0" cy="1030.6" rx="1.2" ry="3.0" fill="none" stroke="#222" stroke-width="0.8"/><ellipse cx="805.7" cy="1034.4" rx="1.2" ry="3.0" fill="none" stroke="#222" stroke-width="0.8"/><ellipse cx="904.5" cy="1109.5" rx="1.5" ry="5.0" fill="none" stroke="#222" stroke-width="0.8"/><ellipse cx="594.0" cy="1066.0" rx="6.0" ry="2.8" fill="#fff" stroke="#222" stroke-width="0.9"/><ellipse cx="739.0" cy="1144.6" rx="6.0" ry="2.8" fill="#fff" stroke="#222" stroke-width="0.9"/><ellipse cx="769.6" cy="1049.9" rx="6.0" ry="2.8" fill="#fff" stroke="#222" stroke-width="0.9"/><ellipse cx="889.0" cy="1132.3" rx="6.0" ry="2.8" fill="#fff" stroke="#222" stroke-width="0.9"/><ellipse cx="594.0" cy="1074.2" rx="2.6" ry="1.3" fill="#fff" stroke="#222" stroke-width="1.0"/><ellipse cx="662.4" cy="1110.3" rx="2.6" ry="1.3" fill="#fff" stroke="#222" stroke-width="1.0"/><ellipse cx="720.6" cy="1141.5" rx="2.6" ry="1.3" fill="#fff" stroke="#222" stroke-width="1.0"/><ellipse cx="791.0" cy="1054.8" rx="2.6" ry="1.3" fill="#fff" stroke="#222" stroke-width="1.0"/><ellipse cx="846.5" cy="1094.0" rx="2.6" ry="1.3" fill="#fff" stroke="#222" stroke-width="1.0"/><ellipse cx="893.9" cy="1126.6" rx="2.6" ry="1.3" fill="#fff" stroke="#222" stroke-width="1.0"/><path d="M884,1040.9 L926.5,1036.8 A9,29.4 0 0 1 926.5,1095.6 L890.6,1098 Q876,1069 884,1040.9 Z" fill="#fff" stroke="#222" stroke-width="1"/><ellipse cx="926.5" cy="1066.2" rx="9.0" ry="29.4" fill="none" stroke="#222" stroke-width="0.9"/><path d="M835.1,1035.2 L858,1023.8 A9.8,30.2 0 0 1 858,1084.2 L840,1077.7 Q830,1056 835.1,1035.2 Z" fill="#fff" stroke="#222" stroke-width="1"/><ellipse cx="858.0" cy="1054.0" rx="9.8" ry="30.2" fill="none" stroke="#222" stroke-width="0.9"/><line x1="908.6" y1="1014.0" x2="880.8" y2="1021.7" stroke="#2a2a25" stroke-width="1.5" stroke-linecap="round"/><polygon points="870.2,1024.6 881.3,1015.8 879.8,1021.9 884.2,1026.4" fill="#2a2a25"/><line x1="909.4" y1="1016.4" x2="906.2" y2="1026.0" stroke="#2a2a25" stroke-width="1.5" stroke-linecap="round"/><polygon points="903.7,1033.6 902.1,1022.5 905.9,1027.0 911.6,1025.7" fill="#2a2a25"/><line x1="824.8" y1="1176.0" x2="777.6" y2="1129.4" stroke="#2a2a25" stroke-width="1.5" stroke-linecap="round"/><polygon points="769.8,1121.7 782.9,1126.9 776.9,1128.7 775.2,1134.7" fill="#2a2a25"/><line x1="600.2" y1="970.7" x2="600.2" y2="981.5" stroke="#2a2a25" stroke-width="1.5" stroke-linecap="round"/><polygon points="600.2,990.5 594.7,979.5 600.2,982.5 605.7,979.5" fill="#2a2a25"/><line x1="600.2" y1="970.7" x2="662.9" y2="981.2" stroke="#2a2a25" stroke-width="1.5" stroke-linecap="round"/><polygon points="673.7,983.0 660.0,986.3 663.8,981.3 661.8,975.4" fill="#2a2a25"/>
<polygon points="682.1,1276.3 684.0,1277.0 684.0,1292.0 552.3,1482.9 549.1,1482.9 546.6,1404.5" fill="#fff" stroke="#222" stroke-width="1.0" stroke-linejoin="round" /><line x1="683.0" y1="1279.0" x2="548.5" y2="1406.0" stroke="#222" stroke-width="0.8" stroke-linecap="round"/><line x1="548.5" y1="1406.0" x2="551.0" y2="1482.0" stroke="#222" stroke-width="0.8" stroke-linecap="round"/><line x1="552.3" y1="1482.9" x2="571.1" y2="1462.4" stroke="#222" stroke-width="1.0" stroke-linecap="round"/><ellipse cx="553.2" cy="1420.8" rx="1.8" ry="3.5" fill="none" stroke="#222" stroke-width="0.8"/><ellipse cx="554.8" cy="1460.0" rx="1.8" ry="3.5" fill="none" stroke="#222" stroke-width="0.8"/><polygon points="678.0,1292.7 842.4,1306.0 761.3,1426.9 561.3,1407.0" fill="#fff" stroke="#222" stroke-width="1.0" stroke-linejoin="round" /><line x1="659.3" y1="1312.2" x2="573.6" y2="1403.7" stroke="#222" stroke-width="1.5" stroke-linecap="round"/><line x1="676.0" y1="1296.0" x2="565.0" y2="1406.0" stroke="#222" stroke-width="0.8" stroke-linecap="round"/><line x1="668.0" y1="1322.0" x2="590.7" y2="1403.7" stroke="#222" stroke-width="0.8" stroke-linecap="round"/><polyline points="597.2,1404.5 631.0,1371.0 636.0,1369.4 700.0,1372.7" fill="none" stroke="#222" stroke-width="0.9" stroke-linejoin="round" stroke-linecap="round" /><polyline points="597.2,1404.5 600.0,1407.0 708.0,1416.7" fill="none" stroke="#222" stroke-width="0.8" stroke-linejoin="round" stroke-linecap="round" /><ellipse cx="659.3" cy="1391.0" rx="45.7" ry="18.0" fill="none" stroke="#222" stroke-width="0.9"/><ellipse cx="666.6" cy="1391.0" rx="22.9" ry="8.5" fill="#fff" stroke="#222" stroke-width="0.9"/><path d="M614.5,1390 Q630,1384 644,1386 M628,1377 Q648,1372 660,1382.5 M689,1394 Q700,1400 704,1398 M662,1399.5 Q650,1404 652,1408 M678,1383 Q692,1374 700,1380 M620,1400 Q632,1398 645,1396" fill="none" stroke="#222" stroke-width="0.8"/><polyline points="628.0,1366.0 636.4,1362.0 649.5,1344.0 665.8,1333.5" fill="none" stroke="#222" stroke-width="0.8" stroke-linejoin="round" stroke-linecap="round" /><path d="M650,1360 Q646,1346 662,1340 Q676,1336 690,1338 M655,1352 L680,1350" fill="none" stroke="#222" stroke-width="0.8"/><clipPath id="cov8"><polygon points="659.3,1309 678,1292.7 842.4,1306 761.3,1426.9 719.7,1423.3"/></clipPath><polygon points="659.3,1309.0 678.0,1292.7 842.4,1306.0 761.3,1426.9 719.7,1423.3" fill="#fff" stroke="#222" stroke-width="1.0" stroke-linejoin="round" /><g clip-path="url(#cov8)"><polygon points="678.5,1317.0 699.2,1301.0 762.9,1306.0 780.4,1315.5 759.7,1329.8 705.5,1329.8" fill="url(#meshh)" stroke="none"/><polygon points="660.0,1339.4 692.8,1333.0 743.8,1341.0 754.9,1348.9 731.0,1364.8 690.0,1366.0" fill="url(#meshh)" stroke="none"/><polygon points="680.0,1376.0 718.3,1380.8 724.6,1388.7 711.9,1399.9 690.0,1400.0" fill="url(#meshh)" stroke="none"/></g><line x1="659.3" y1="1309.0" x2="719.7" y2="1423.3" stroke="#222" stroke-width="1.3" stroke-linecap="round"/><polygon points="561.3,1407.0 761.3,1426.9 761.3,1482.6 563.0,1460.8" fill="#fff" stroke="#222" stroke-width="1.0" stroke-linejoin="round" /><line x1="561.3" y1="1407.0" x2="761.3" y2="1426.9" stroke="#444" stroke-width="2.0" stroke-linecap="round"/><rect x="595.2" y="1429.0" width="4" height="29.4" rx="2" fill="#fff" stroke="#222" stroke-width="1"/><ellipse cx="596.4" cy="1429.0" rx="5.5" ry="5.5" fill="#fff" stroke="#222" stroke-width="1.1"/><ellipse cx="596.4" cy="1429.0" rx="3.3" ry="3.3" fill="none" stroke="#222" stroke-width="0.8"/><line x1="594.2" y1="1426.8" x2="598.6" y2="1431.2" stroke="#222" stroke-width="0.8" stroke-linecap="round"/><line x1="594.2" y1="1431.2" x2="598.6" y2="1426.8" stroke="#222" stroke-width="0.8" stroke-linecap="round"/><rect x="691.2" y="1438.0" width="4" height="30.2" rx="2" fill="#fff" stroke="#222" stroke-width="1"/><ellipse cx="692.8" cy="1438.0" rx="5.5" ry="5.5" fill="#fff" stroke="#222" stroke-width="1.1"/><ellipse cx="692.8" cy="1438.0" rx="3.3" ry="3.3" fill="none" stroke="#222" stroke-width="0.8"/><line x1="690.6" y1="1435.8" x2="695.0" y2="1440.2" stroke="#222" stroke-width="0.8" stroke-linecap="round"/><line x1="690.6" y1="1440.2" x2="695.0" y2="1435.8" stroke="#222" stroke-width="0.8" stroke-linecap="round"/><ellipse cx="566.2" cy="1430.6" rx="3.2" ry="3.2" fill="#fff" stroke="#222" stroke-width="0.9"/><line x1="564.3" y1="1430.6" x2="568.1" y2="1430.6" stroke="#222" stroke-width="0.7" stroke-linecap="round"/><line x1="566.2" y1="1428.7" x2="566.2" y2="1432.5" stroke="#222" stroke-width="0.7" stroke-linecap="round"/><ellipse cx="756.0" cy="1447.0" rx="3.2" ry="3.2" fill="#fff" stroke="#222" stroke-width="0.9"/><line x1="754.1" y1="1447.0" x2="757.9" y2="1447.0" stroke="#222" stroke-width="0.7" stroke-linecap="round"/><line x1="756.0" y1="1445.1" x2="756.0" y2="1448.9" stroke="#222" stroke-width="0.7" stroke-linecap="round"/><polygon points="761.3,1426.9 842.4,1306.0 842.4,1347.0 761.3,1482.6" fill="#fff" stroke="#222" stroke-width="1.0" stroke-linejoin="round" /><line x1="761.3" y1="1426.9" x2="842.4" y2="1306.0" stroke="#222" stroke-width="1.8" stroke-linecap="round"/><ellipse cx="767.0" cy="1452.0" rx="1.1" ry="2.3" fill="#222" stroke="#222" stroke-width="0.5"/><ellipse cx="771.2" cy="1446.0" rx="1.1" ry="2.3" fill="#222" stroke="#222" stroke-width="0.5"/><ellipse cx="775.4" cy="1440.0" rx="1.1" ry="2.3" fill="#222" stroke="#222" stroke-width="0.5"/><ellipse cx="779.6" cy="1434.0" rx="1.1" ry="2.3" fill="#222" stroke="#222" stroke-width="0.5"/><ellipse cx="667.3" cy="1304.3" rx="2.6" ry="1.5" fill="#fff" stroke="#222" stroke-width="0.8"/><ellipse cx="756.5" cy="1299.6" rx="2.6" ry="1.5" fill="#fff" stroke="#222" stroke-width="0.8"/><ellipse cx="829.7" cy="1317.0" rx="2.6" ry="1.5" fill="#fff" stroke="#222" stroke-width="0.8"/><ellipse cx="802.6" cy="1358.5" rx="2.6" ry="1.5" fill="#fff" stroke="#222" stroke-width="0.8"/><ellipse cx="769.2" cy="1407.8" rx="2.6" ry="1.5" fill="#fff" stroke="#222" stroke-width="0.8"/><path d="M812,1360 L828.1,1352.6 A6,25 0 0 1 828.1,1402.6 L815,1398 Q805,1378 812,1360 Z" fill="#fff" stroke="#222" stroke-width="1"/><ellipse cx="828.1" cy="1377.6" rx="6.0" ry="25.0" fill="none" stroke="#222" stroke-width="0.9"/><path d="M800,1378 L817,1372.3 A6,26 0 0 1 817,1424.3 L802,1418 Q792,1398 800,1378 Z" fill="#fff" stroke="#222" stroke-width="1"/><ellipse cx="817.0" cy="1398.3" rx="6.0" ry="26.0" fill="none" stroke="#222" stroke-width="0.9"/><polygon points="715.6,1264.9 739.3,1295.1 719.7,1291.8 719.7,1344.9 711.5,1344.9 711.5,1291.8 692.8,1295.1" fill="#2a2a25" stroke="#fff" stroke-width="4" paint-order="stroke" stroke-linejoin="miter"/><line x1="910.9" y1="1355.3" x2="851.6" y2="1368.8" stroke="#2a2a25" stroke-width="1.5" stroke-linecap="round"/><polygon points="840.9,1371.2 852.4,1363.0 850.7,1369.0 854.8,1373.7" fill="#2a2a25"/><line x1="563.0" y1="1277.1" x2="614.9" y2="1357.7" stroke="#2a2a25" stroke-width="1.5" stroke-linecap="round"/><polygon points="620.9,1366.9 609.2,1359.0 615.5,1358.5 618.5,1353.0" fill="#2a2a25"/><line x1="567.9" y1="1491.8" x2="585.0" y2="1449.0" stroke="#2a2a25" stroke-width="1.5" stroke-linecap="round"/><polygon points="589.1,1438.8 589.4,1452.9 585.4,1448.1 579.2,1448.8" fill="#2a2a25"/><line x1="567.9" y1="1491.8" x2="667.1" y2="1450.3" stroke="#2a2a25" stroke-width="1.5" stroke-linecap="round"/><polygon points="677.2,1446.1 667.3,1456.2 668.0,1450.0 663.1,1446.0" fill="#2a2a25"/>
</svg></body></html>
